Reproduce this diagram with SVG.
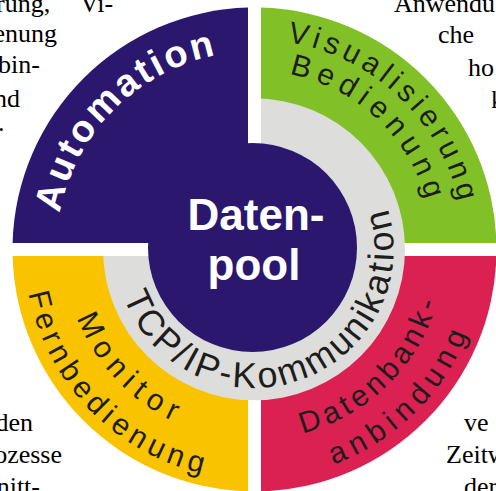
<svg xmlns="http://www.w3.org/2000/svg" width="496" height="491" viewBox="0 0 496 491">
<style>
.bg{font-family:"Liberation Serif","Times New Roman",serif;font-size:26px;fill:#000}
.arc{font-family:"Liberation Sans",Arial,sans-serif;font-size:30px;fill:#1d1d1b}
.ring{font-family:"Liberation Sans",Arial,sans-serif;font-size:36px;fill:#1d1d1b}
.auto{font-family:"Liberation Sans",Arial,sans-serif;font-size:38px;font-weight:bold;fill:#fff}
.core{font-family:"Liberation Sans",Arial,sans-serif;font-size:44px;font-weight:bold;fill:#fff}
</style>
<defs>
<path id="pAuto" d="M114.5,389.5 A198,198 0 0 1 114.5,109.5 A198,198 0 0 1 394.5,109.5"/>
<path id="pVis" d="M102.2,104.9 A210,210 0 0 1 399.1,97.2 A210,210 0 0 1 406.8,394.1"/>
<path id="pBed" d="M124.7,126.3 A179,179 0 0 1 377.7,119.7 A179,179 0 0 1 384.3,372.7"/>
<path id="pDat" d="M120.1,383.9 A190,190 0 0 0 388.9,383.9 A190,190 0 0 0 388.9,115.1"/>
<path id="pAnb" d="M92.6,411.4 A229,229 0 0 0 416.4,411.4 A229,229 0 0 0 416.4,87.6"/>
<path id="pMon" d="M122.5,112.8 A190,190 0 0 0 117.8,381.5 A190,190 0 0 0 386.5,386.2"/>
<path id="pFern" d="M93.3,85.4 A230,230 0 0 0 90.4,410.7 A230,230 0 0 0 415.7,413.6"/>
<path id="pTcp" d="M207.3,119.8 A138,138 0 0 0 299.4,380.0 A138,138 0 0 0 211.9,118.2"/>
</defs>
<g id="page-text">
<text class="bg" x="-4" y="12">rung,</text>
<text class="bg" x="80" y="12">Vi-</text>
<text class="bg" x="57" y="42" text-anchor="end">enung</text>
<text class="bg" x="40" y="73" text-anchor="end">bin-</text>
<text class="bg" x="20" y="107" text-anchor="end">nd</text>
<text class="bg" x="-2" y="131">.</text>
<text class="bg" x="394" y="12">Anwendu</text>
<text class="bg" x="438" y="43">che</text>
<text class="bg" x="468" y="76">ho</text>
<text class="bg" x="491" y="108">k</text>
<text class="bg" x="33" y="431" text-anchor="end">den</text>
<text class="bg" x="62" y="463" text-anchor="end">ozesse</text>
<text class="bg" x="40" y="495" text-anchor="end">nitt-</text>
<text class="bg" x="464" y="431">ve</text>
<text class="bg" x="446" y="463">Zeitw</text>
<text class="bg" x="464" y="495">der</text>
</g>
<g id="visualisierung">
<path d="M261,7.6 A242,242 0 0 1 496.4,243 L261,243 Z" fill="#82c028"/>
</g>
<g id="datenbank">
<path d="M496.4,256 A242,242 0 0 1 261,491.4 L261,256 Z" fill="#da2152"/>
</g>
<g id="monitor">
<path d="M248,491.4 A242,242 0 0 1 12.6,256 L248,256 Z" fill="#f9c300"/>
</g>
<g id="tcpip">
<circle cx="254" cy="249.3" r="151" fill="#dddddc"/>
</g>
<g id="automation">
<path d="M248,7.6 A242,242 0 0 0 12.6,243 L248,243 Z" fill="#2b186e"/>
</g>
<g id="gaps" fill="#fff">
<rect x="248" y="90" width="13" height="150"/>
<rect x="95" y="243" width="150" height="13"/>
</g>
<g id="datenpool">
<circle cx="252.5" cy="247.5" r="104.5" fill="#2b186e"/>
<text class="core" x="256" y="230" text-anchor="middle">Daten-</text>
<text class="core" x="254" y="280" text-anchor="middle">pool</text>
</g>
<g id="labels">
<text class="auto" letter-spacing="2.7"><textPath href="#pAuto" startOffset="50%" text-anchor="middle">Automation</textPath></text>
<text class="arc" letter-spacing="4.8"><textPath href="#pVis" startOffset="50%" text-anchor="middle">Visualisierung</textPath></text>
<text class="arc" letter-spacing="6.5"><textPath href="#pBed" startOffset="50%" text-anchor="middle">Bedienung</textPath></text>
<text class="arc" letter-spacing="4.6"><textPath href="#pDat" startOffset="50%" text-anchor="middle">Datenbank-</textPath></text>
<text class="arc" letter-spacing="6.5"><textPath href="#pAnb" startOffset="50%" text-anchor="middle">anbindung</textPath></text>
<text class="arc" letter-spacing="7.5"><textPath href="#pMon" startOffset="50%" text-anchor="middle">Monitor</textPath></text>
<text class="arc" letter-spacing="5.2"><textPath href="#pFern" startOffset="50%" text-anchor="middle">Fernbedienung</textPath></text>
<text class="ring" letter-spacing="2.8"><textPath href="#pTcp" startOffset="50%" text-anchor="middle">TCP/IP-Kommunikation</textPath></text>
</g>
</svg>
